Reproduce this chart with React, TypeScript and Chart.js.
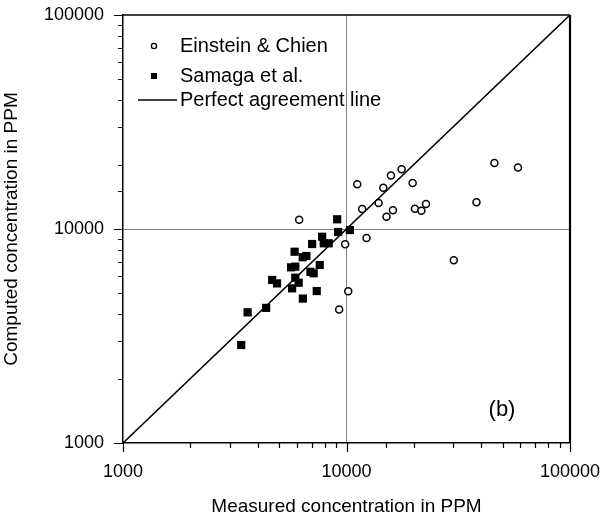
import React, { useEffect, useRef } from "react";
import { Chart, registerables } from "chart.js";

Chart.register(...registerables);

// Einstein & Chien (open circles)
const einsteinX = [6140, 11170, 11750, 14610, 15800, 17650, 13920, 15100, 16130, 19770, 20230, 21620, 22680, 12290, 9860, 10180, 9270, 45900, 58500, 38150, 30200];
const einsteinY = [11050, 16180, 12390, 15600, 17800, 19000, 13230, 11410, 12230, 16400, 12440, 12170, 13090, 9080, 8480, 5120, 4210, 20340, 19400, 13330, 7140];

// Samaga et al. (filled squares)
const samagaX = [9085, 9180, 10350, 7780, 7020, 7910, 8330, 5860, 6370, 6615, 5650, 5900, 7590, 6895, 7130, 4650, 4890, 5900, 6110, 5710, 7360, 6380, 4370, 3610, 3380];
const samagaY = [11100, 9680, 9890, 9200, 8510, 8575, 8575, 7830, 7380, 7480, 6620, 6670, 6790, 6310, 6210, 5780, 5570, 5920, 5610, 5280, 5130, 4730, 4280, 4080, 2870];

// Perfect agreement line
const agreementX = [1000, 100000];
const agreementY = [1000, 100000];

const axisMin = 1000;
const axisMax = 100000;
const gridValue = 10000;

const seriesLabels = ["Einstein & Chien", "Samaga et al.", "Perfect agreement line"];
const xTitle = "Measured concentration in PPM";
const yTitle = "Computed concentration in PPM";
const panelLabel = "(b)";

const FONT = "'Liberation Sans', Arial, Helvetica, sans-serif";

const isMajor = (v: number) => Math.abs(Math.log10(v) - Math.round(Math.log10(v))) < 1e-9;

const framePlugin = {
  id: "frame",
  afterDraw(chart: any) {
    const { ctx, chartArea: ca, scales } = chart;
    const xs = scales.x;
    const ys = scales.y;
    ctx.save();
    ctx.strokeStyle = "#000";
    ctx.lineWidth = 1.2;
    ctx.beginPath();
    xs.ticks.forEach((t: any) => {
      const px = Math.round(xs.getPixelForValue(t.value)) + 0.5;
      const len = isMajor(t.value) ? 9 : 5;
      ctx.moveTo(px, ca.bottom);
      ctx.lineTo(px, ca.bottom + len);
    });
    ys.ticks.forEach((t: any) => {
      const py = Math.round(ys.getPixelForValue(t.value)) + 0.5;
      const len = isMajor(t.value) ? 9 : 5;
      ctx.moveTo(ca.left, py);
      ctx.lineTo(ca.left - len, py);
    });
    ctx.stroke();

    // top and right frame
    ctx.lineWidth = 1.5;
    ctx.beginPath();
    ctx.moveTo(ca.left, ca.top);
    ctx.lineTo(ca.right, ca.top);
    ctx.stroke();
    ctx.lineWidth = 2.2;
    ctx.beginPath();
    ctx.moveTo(ca.right, ca.top);
    ctx.lineTo(ca.right, ca.bottom);
    ctx.stroke();

    // legend
    const lx = ca.left + 31;
    const tx = ca.left + 57;
    const y1 = ca.top + 31;
    const y2 = ca.top + 61;
    const y3 = ca.top + 85;
    ctx.fillStyle = "#000";
    ctx.font = `20px ${FONT}`;
    ctx.textBaseline = "middle";
    ctx.textAlign = "left";
    const ds = chart.data.datasets;

    ctx.lineWidth = 1.4;
    ctx.beginPath();
    ctx.arc(lx, y1, 2.6, 0, Math.PI * 2);
    ctx.fillStyle = "#fff";
    ctx.fill();
    ctx.stroke();
    ctx.fillStyle = "#000";
    ctx.fillText(ds[0].label, tx, y1);

    ctx.fillRect(lx - 3, y2 - 3, 6, 6);
    ctx.fillText(ds[1].label, tx, y2);

    ctx.lineWidth = 1.5;
    ctx.beginPath();
    ctx.moveTo(ca.left + 15, y3);
    ctx.lineTo(ca.left + 54, y3);
    ctx.stroke();
    ctx.fillText(ds[2].label, tx, y3);

    // panel label
    ctx.font = `22px ${FONT}`;
    ctx.textAlign = "center";
    ctx.fillText(panelLabel, ca.right - 68, ca.bottom - 33);
    ctx.restore();
  },
};

export default function App() {
  const canvasRef = useRef<HTMLCanvasElement | null>(null);

  useEffect(() => {
    if (!canvasRef.current) return;
    const einsteinData = einsteinX.map((x, i) => ({ x, y: einsteinY[i] }));
    const samagaData = samagaX.map((x, i) => ({ x, y: samagaY[i] }));
    const lineData = agreementX.map((x, i) => ({ x, y: agreementY[i] }));

    const gridColor = (c: any) =>
      c.tick && Math.abs(c.tick.value - gridValue) < 1e-6 ? "#808080" : "rgba(0,0,0,0)";

    const chart = new Chart(canvasRef.current, {
      type: "scatter",
      data: {
        datasets: [
          {
            label: seriesLabels[0],
            data: einsteinData,
            pointStyle: "circle",
            pointRadius: 3.5,
            pointBackgroundColor: "#fff",
            pointBorderColor: "#000",
            pointBorderWidth: 1.5,
            order: 1,
          },
          {
            label: seriesLabels[1],
            data: samagaData,
            pointStyle: "rect",
            pointRadius: 5.8,
            pointBackgroundColor: "#000",
            pointBorderColor: "#000",
            pointBorderWidth: 0,
            order: 2,
          },
          {
            label: seriesLabels[2],
            type: "line",
            data: lineData,
            showLine: true,
            borderColor: "#000",
            borderWidth: 1.6,
            pointRadius: 0,
            fill: false,
            order: 3,
          } as any,
        ],
      },
      options: {
        animation: false,
        responsive: true,
        maintainAspectRatio: false,
        layout: { padding: { top: 15, right: 36, left: 0, bottom: 0 } },
        plugins: {
          legend: { display: false },
          tooltip: { enabled: false },
        },
        scales: {
          x: {
            type: "logarithmic",
            position: "bottom",
            min: axisMin,
            max: axisMax,
            grid: { drawTicks: false, color: gridColor, lineWidth: 1 },
            border: { display: true, color: "#000", width: 1.5 },
            ticks: {
              autoSkip: false,
              maxRotation: 0,
              minRotation: 0,
              padding: 18,
              color: "#000",
              font: { size: 18, family: FONT },
              callback: (v: any) => (isMajor(Number(v)) ? String(Number(v)) : ""),
            },
            title: {
              display: true,
              text: xTitle,
              color: "#000",
              font: { size: 19, family: FONT },
              padding: 0,
            },
            afterFit: (s: any) => {
              s.height = 75;
              s.paddingLeft = 0;
              s.paddingRight = 0;
            },
          },
          y: {
            type: "logarithmic",
            position: "left",
            min: axisMin,
            max: axisMax,
            grid: { drawTicks: false, color: gridColor, lineWidth: 1 },
            border: { display: true, color: "#000", width: 1.5 },
            ticks: {
              autoSkip: false,
              padding: 19,
              color: "#000",
              font: { size: 18, family: FONT },
              callback: (v: any) => (isMajor(Number(v)) ? String(Number(v)) : ""),
            },
            title: {
              display: true,
              text: yTitle,
              color: "#000",
              font: { size: 19, family: FONT },
              padding: 0,
            },
            afterFit: (s: any) => {
              s.width = 123;
              s.paddingTop = 0;
              s.paddingBottom = 0;
            },
          },
        },
      },
      plugins: [framePlugin],
    });
    return () => chart.destroy();
  }, []);

  return (
    <div style={{ position: "absolute", left: 0, top: 0, width: 606, height: 518, background: "#fff" }}>
      <canvas ref={canvasRef} />
    </div>
  );
}
